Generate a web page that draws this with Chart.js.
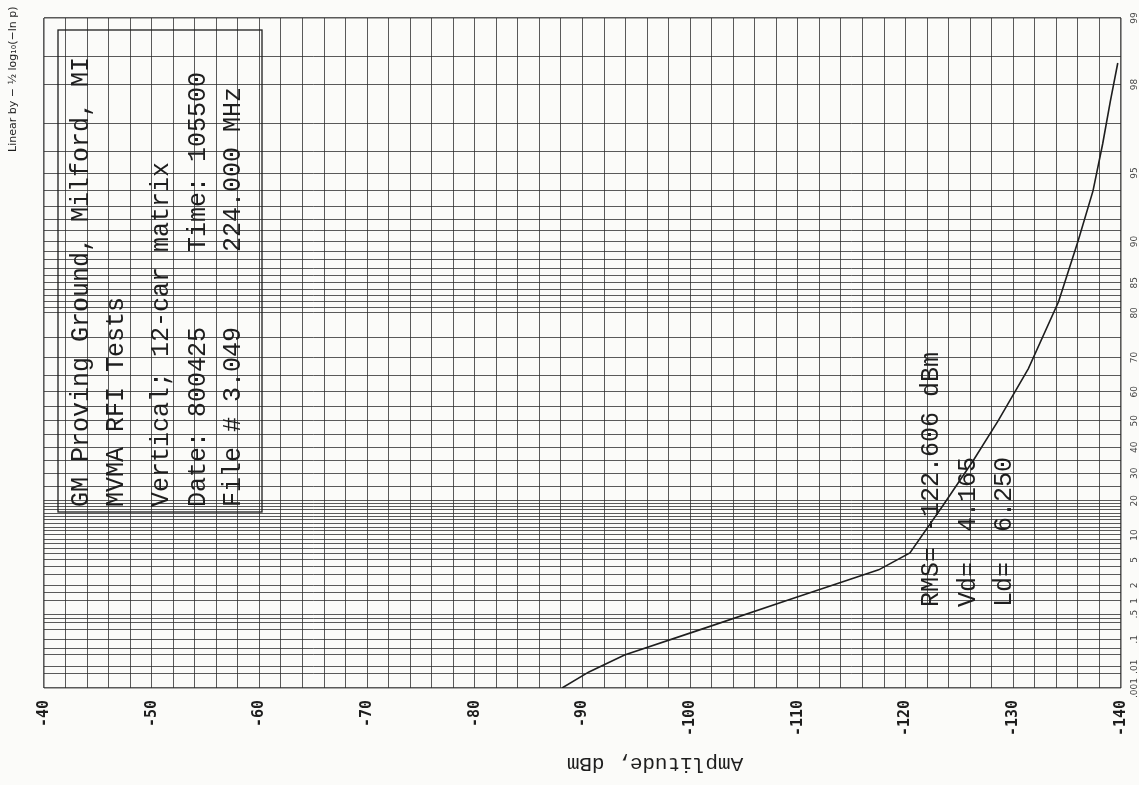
<!DOCTYPE html>
<html>
<head>
<meta charset="utf-8">
<script src="https://cdn.jsdelivr.net/npm/chart.js@4.4.1/dist/chart.umd.min.js"></script>
<style>
html,body{margin:0;padding:0;background:#fbfbf9;}
#wrap{width:1139px;height:785px;position:relative;}
</style>
</head>
<body>
<div id="wrap"><canvas id="c"></canvas></div>
<script>
// ============================================================
//  AMPLITUDE PROBABILITY DISTRIBUTION (Rayleigh paper)
// ============================================================
// amplitude in dBm and percent of time the amplitude is exceeded
const amplitude=[-88.1,-90.6,-93.9,-100.8,-109.1,-117.5,-120.4,-123.5,-126.3,-128.6,-131.4,-134.2,-136.0,-137.4,-138.3,-139.0,-139.7];
const percentExceeded=[0.001,0.006,0.029,0.19,1.04,3.6,6.2,18.6,35,50,67,82,90,94,96.3,97.6,98.4];
// probability grid of the paper and the values that carry a label
const probGrid=[99,98.5,98,97,96,95,94,93,92,91,90,89,88,87,86,85,84,83,82,81,80,75,70,65,60,55,50,45,40,35,30,25,20,
  19,18,17,16,15,14,13,12,11,10,9,8,7,6,5,4,3,2,1.5,1,0.5,0.4,0.3,0.2,0.1,0.05,0.03,0.01,0.005,0.001];
const probLabels=[99,98,95,90,85,80,70,60,50,40,30,20,10,5,2,1,0.5,0.1,0.01,0.001];
const ampMin=-140, ampMax=-40, ampStep=2, ampLabelStep=10;
const infoLines=['GM Proving Ground, Milford, MI','MVMA RFI Tests','Vertical; 12-car matrix',
  'Date: 800425     Time: 105500','File # 3.049     224.000 MHz'];
const statLines=['RMS= -122.606 dBm','Vd=  4.165','Ld=  6.250'];

// ordinate is linear in -1/2 log10(-ln p)
const yOf=pct=>-0.5*Math.log10(-Math.log(pct/100));
const fmtPct=v=>v>=1?String(v):String(v).replace(/^0/,'');

const ink='#1e1e1e', gridCol='rgba(45,45,45,0.78)';
const mono='"Liberation Mono", "DejaVu Sans Mono", monospace';

const textPlugin={
  id:'paperText',
  afterDraw(chart){
    const {ctx,chartArea:a}=chart;
    ctx.save();
    ctx.fillStyle=ink; ctx.strokeStyle=ink;
    // info box
    ctx.lineWidth=1.3;
    ctx.strokeRect(a.left+14,a.top+12,204,482);
    const vtext=(s,x,y,font)=>{
      ctx.save(); ctx.translate(x,y); ctx.rotate(-Math.PI/2);
      ctx.font=font; ctx.textAlign='left'; ctx.textBaseline='middle';
      ctx.fillText(s,0,0); ctx.restore();
    };
    const infoX=[81,116,161,198,233];
    infoLines.forEach((s,i)=>vtext(s,infoX[i],507,'25px '+mono));
    const statX=[931,968,1004];
    statLines.forEach((s,i)=>vtext(s,statX[i],607,'25px '+mono));
    // ordinate title
    vtext('Linear by \u2212 \u00bd log\u2081\u2080(\u2212ln p)',13,152,'11px "DejaVu Sans", sans-serif');
    // abscissa title, printed upside down
    ctx.save(); ctx.translate(655,764); ctx.rotate(Math.PI);
    ctx.font='21px '+mono; ctx.textAlign='center'; ctx.textBaseline='middle';
    ctx.fillText('Amplitude, dBm',0,0); ctx.restore();
    ctx.restore();
  }
};

new Chart(document.getElementById('c'),{
  type:'line',
  data:{datasets:[{
    data:amplitude.map((v,i)=>({x:v,y:yOf(percentExceeded[i])})),
    borderColor:ink,borderWidth:1.6,pointRadius:0,tension:0,fill:false
  }]},
  options:{
    responsive:true,maintainAspectRatio:false,animation:false,
    layout:{padding:{left:44,top:18,right:0,bottom:0}},
    plugins:{legend:{display:false},tooltip:{enabled:false}},
    scales:{
      x:{
        type:'linear',reverse:true,min:ampMin,max:ampMax,
        afterFit:s=>{s.height=97;s.paddingLeft=0;s.paddingRight=0;},
        ticks:{stepSize:ampStep,autoSkip:false,minRotation:90,maxRotation:90,padding:12,
          color:ink,font:{family:'"DejaVu Sans Mono", monospace',size:15,weight:'bold'},
          callback:v=>v%ampLabelStep===0?String(v):''},
        grid:{drawTicks:false,color:gridCol,
          lineWidth:c=>(c.tick&&(c.tick.value===ampMin||c.tick.value===ampMax))?1.6:1},
        border:{display:false}
      },
      y:{
        type:'linear',position:'right',min:yOf(0.001),max:yOf(99),
        afterFit:s=>{s.width=18;s.paddingTop=0;s.paddingBottom=0;},
        afterBuildTicks:s=>{s.ticks=probGrid.map(p=>({value:yOf(p)}));},
        ticks:{autoSkip:false,minRotation:90,maxRotation:90,padding:4,crossAlign:'center',
          color:'#444',font:{family:'"DejaVu Sans", sans-serif',size:9},
          callback:(v,i)=>probLabels.includes(probGrid[i])?fmtPct(probGrid[i]):''},
        grid:{drawTicks:false,color:gridCol,
          lineWidth:c=>(c.index===0||c.index===probGrid.length-1)?1.6:1},
        border:{display:false}
      }
    }
  },
  plugins:[textPlugin]
});
</script>
</body>
</html>
